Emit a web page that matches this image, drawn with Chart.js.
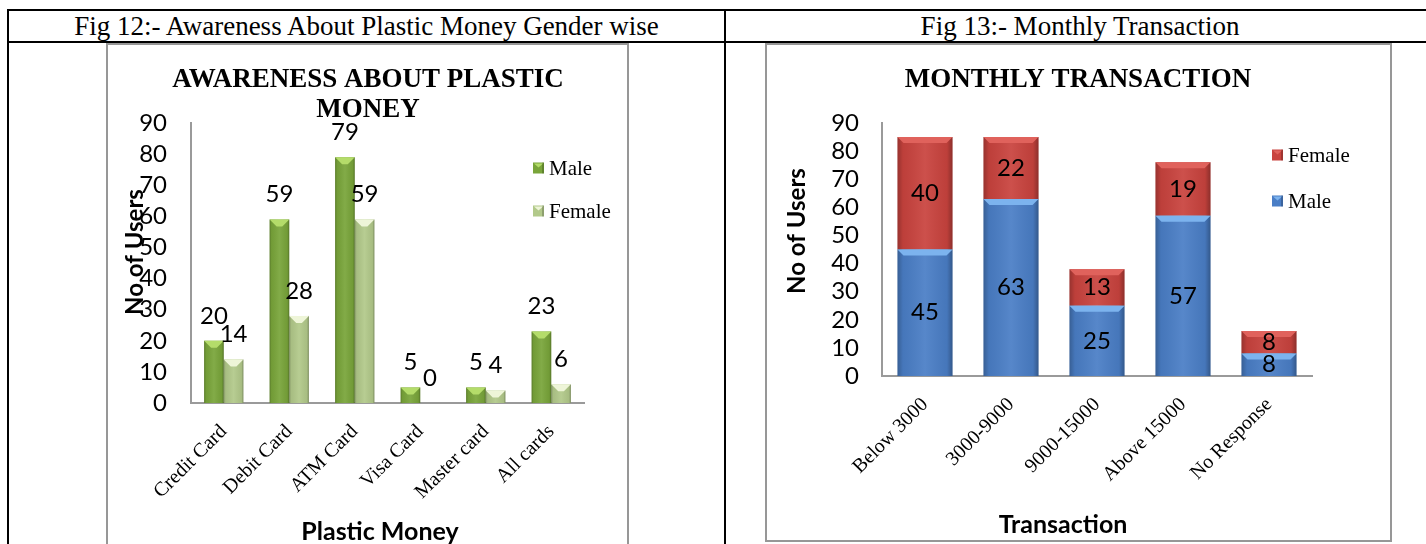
<!DOCTYPE html>
<html>
<head>
<meta charset="utf-8">
<script src="https://cdn.jsdelivr.net/npm/chart.js@4.4.1/dist/chart.umd.min.js"></script>
<style>
  html, body { margin: 0; padding: 0; background: #fff; }
  body { position: relative; width: 1426px; height: 544px; overflow: hidden; font-family: 'Liberation Serif', 'Times New Roman', serif; }
  .rule { position: absolute; background: #000; }
  .frame { position: absolute; border: 2px solid #979797; box-sizing: border-box; }
  .cap { position: absolute; top: 11px; height: 30px; line-height: 30px; text-align: center; font-size: 27px; color: #000; white-space: nowrap; }
  canvas { position: absolute; }
</style>
</head>
<body>
  <div class="frame" style="left:106px;top:43px;width:523px;height:520px"></div>
  <div class="frame" style="left:765px;top:43px;width:627px;height:499px"></div>
  <div class="rule" style="left:7px;top:9px;width:1419px;height:2px"></div>
  <div class="rule" style="left:7px;top:41px;width:1419px;height:2px"></div>
  <div class="rule" style="left:7px;top:9px;width:2px;height:535px"></div>
  <div class="rule" style="left:724px;top:9px;width:2px;height:535px"></div>
  <div class="cap" style="left:9px;width:715px">Fig 12:- Awareness About Plastic Money Gender wise</div>
  <div class="cap" style="left:726px;width:708px">Fig 13:- Monthly Transaction</div>

  <canvas id="awareness" width="519" height="500" style="left:108px;top:44px"></canvas>
  <canvas id="monthly" width="624" height="497" style="left:766px;top:44px"></canvas>

<script>
// Fig 12 – awareness of plastic money by gender
const plasticCategories = ['Credit Card', 'Debit Card', 'ATM Card', 'Visa Card', 'Master card', 'All cards'];
const plasticMale = [20, 59, 79, 5, 5, 23];
const plasticFemale = [14, 28, 59, 0, 4, 6];

// Fig 13 – monthly transaction by gender
const transactionCategories = ['Below 3000', '3000-9000', '9000-15000', 'Above 15000', 'No Response'];
const transactionMale = [45, 63, 25, 57, 8];
const transactionFemale = [40, 22, 13, 19, 8];

// shared value axis ticks
const userTicks = [0, 10, 20, 30, 40, 50, 60, 70, 80, 90];

const SANS = 'Lato, "Open Sans", sans-serif';
const SERIF = '"Liberation Serif", "Times New Roman", serif';

// Shading for the bars: darker sides and a lighter bevel along the top edge
const bevelPlugin = {
  id: 'bevel',
  afterDatasetsDraw(chart, args, opts) {
    const ctx = chart.ctx;
    ctx.save();
    chart.data.datasets.forEach((ds, di) => {
      const meta = chart.getDatasetMeta(di);
      if (meta.hidden) return;
      const light = (opts.colors || [])[di] || 'rgba(255,255,255,0.3)';
      meta.data.forEach(bar => {
        const p = bar.getProps(['x', 'y', 'base', 'width'], true);
        const left = p.x - p.width / 2, right = p.x + p.width / 2;
        const top = Math.min(p.y, p.base), bottom = Math.max(p.y, p.base);
        const h = bottom - top;
        if (h <= 0.5) return;
        const g = ctx.createLinearGradient(left, 0, right, 0);
        g.addColorStop(0, 'rgba(0,0,0,0.25)');
        g.addColorStop(0.1, 'rgba(0,0,0,0.06)');
        g.addColorStop(0.5, 'rgba(255,255,255,0.07)');
        g.addColorStop(0.9, 'rgba(0,0,0,0.06)');
        g.addColorStop(1, 'rgba(0,0,0,0.3)');
        ctx.fillStyle = g;
        ctx.fillRect(left, top, p.width, h);
        const b = Math.min(opts.size, p.width / 2 - 1, h);
        ctx.beginPath();
        ctx.moveTo(left, top);
        ctx.lineTo(right, top);
        ctx.lineTo(right - b, top + b);
        ctx.lineTo(left + b, top + b);
        ctx.closePath();
        ctx.fillStyle = light;
        ctx.fill();
      });
    });
    ctx.restore();
  }
};

// Titles, legend entries, axis titles and value labels
const textPlugin = {
  id: 'texts',
  afterDraw(chart, args, o) {
    const ctx = chart.ctx;
    ctx.save();
    ctx.fillStyle = '#000';
    ctx.textAlign = 'center';
    ctx.textBaseline = 'middle';

    // chart title
    ctx.font = 'bold 27px ' + SERIF;
    o.title.lines.forEach((t, i) => ctx.fillText(t, o.title.x, o.title.y + i * o.title.dy));

    // value labels
    ctx.font = '24px ' + SANS;
    chart.data.datasets.forEach((ds, di) => {
      const meta = chart.getDatasetMeta(di);
      meta.data.forEach((bar, i) => {
        const p = bar.getProps(['x', 'y', 'base'], true);
        const v = ds.data[i];
        const y = o.valuePlacement === 'center' ? (p.y + p.base) / 2 : p.y - o.valueOffset;
        ctx.fillText(String(v), p.x, y);
      });
    });

    // legend
    ctx.textAlign = 'left';
    ctx.font = '21px ' + SERIF;
    o.legend.forEach(item => {
      const ds = chart.data.datasets[item.dataset];
      const s = 11, sx = o.legendX, sy = item.y - s / 2;
      ctx.fillStyle = ds.backgroundColor;
      ctx.fillRect(sx, sy, s, s);
      ctx.fillStyle = 'rgba(0,0,0,0.2)';
      ctx.fillRect(sx + s - 2, sy, 2, s);
      ctx.beginPath();
      ctx.moveTo(sx + 1, sy + 1); ctx.lineTo(sx + s - 1, sy + 1); ctx.lineTo(sx + s / 2, sy + 5); ctx.closePath();
      ctx.fillStyle = item.light;
      ctx.fill();
      ctx.fillStyle = '#000';
      ctx.fillText(ds.label, sx + s + 5, item.y + 1);
    });

    // axis titles
    ctx.textAlign = 'center';
    ctx.font = 'bold 25px ' + SANS;
    ctx.fillText(o.xTitle.text, o.xTitle.x, o.xTitle.y);
    ctx.font = 'bold 24px ' + SANS;
    ctx.translate(o.yTitle.x, o.yTitle.y);
    ctx.rotate(-Math.PI / 2);
    ctx.fillText(o.yTitle.text, 0, 0);
    ctx.restore();
  }
};

function valueAxis(width, stacked, pad) {
  return {
    stacked: stacked,
    min: 0, max: 90,
    afterBuildTicks: s => { s.ticks = userTicks.map(v => ({ value: v })); },
    afterFit: s => { s.width = width; },
    grid: { display: false },
    border: { display: true, color: '#9a9a9a', width: 2 },
    ticks: { color: '#000', padding: pad, autoSkip: false, font: { family: SANS, size: 24 } }
  };
}

function categoryAxis(height, stacked) {
  return {
    stacked: stacked,
    afterFit: s => { s.height = height; },
    grid: { display: false },
    border: { display: true, color: '#9a9a9a', width: 2 },
    ticks: {
      color: '#000', padding: 9, autoSkip: false, minRotation: 45, maxRotation: 45,
      font: { family: SERIF, size: 20 }
    }
  };
}

new Chart(document.getElementById('awareness'), {
  type: 'bar',
  data: {
    labels: plasticCategories,
    datasets: [
      { label: 'Male', data: plasticMale, backgroundColor: '#79a53a', categoryPercentage: 0.6, barPercentage: 1.0 },
      { label: 'Female', data: plasticFemale, backgroundColor: '#b2c98a', categoryPercentage: 0.6, barPercentage: 1.0 }
    ]
  },
  options: {
    responsive: false,
    animation: false,
    layout: { padding: { top: 79, right: 43, bottom: 0, left: 0 } },
    plugins: {
      legend: { display: false },
      title: { display: false },
      tooltip: { enabled: false },
      bevel: { size: 7, colors: ['#b4dc6a', '#eef5d8'] },
      texts: {
        title: { lines: ['AWARENESS ABOUT PLASTIC', 'MONEY'], x: 260, y: 36, dy: 30 },
        valuePlacement: 'above', valueOffset: 25,
        legendX: 425,
        legend: [ { dataset: 0, y: 124, light: '#b4dc6a' }, { dataset: 1, y: 167, light: '#eef5d8' } ],
        yTitle: { text: 'No of Users', x: 27, y: 208 },
        xTitle: { text: 'Plastic Money', x: 272, y: 488 }
      }
    },
    scales: {
      x: categoryAxis(141, false),
      y: valueAxis(83, false, 16)
    }
  },
  plugins: [bevelPlugin, textPlugin]
});

new Chart(document.getElementById('monthly'), {
  type: 'bar',
  data: {
    labels: transactionCategories,
    datasets: [
      { label: 'Male', data: transactionMale, backgroundColor: '#4a7ec6', categoryPercentage: 0.8, barPercentage: 0.8 },
      { label: 'Female', data: transactionFemale, backgroundColor: '#c9433e', categoryPercentage: 0.8, barPercentage: 0.8 }
    ]
  },
  options: {
    responsive: false,
    animation: false,
    layout: { padding: { top: 79, right: 78, bottom: 0, left: 0 } },
    plugins: {
      legend: { display: false },
      title: { display: false },
      tooltip: { enabled: false },
      bevel: { size: 6, colors: ['#7cb3ee', '#e0625c'] },
      texts: {
        title: { lines: ['MONTHLY TRANSACTION'], x: 312, y: 36, dy: 30 },
        valuePlacement: 'center', valueOffset: 0,
        legendX: 506,
        legend: [ { dataset: 1, y: 111, light: '#e0625c' }, { dataset: 0, y: 157, light: '#7cb3ee' } ],
        yTitle: { text: 'No of Users', x: 31, y: 187 },
        xTitle: { text: 'Transaction', x: 297, y: 481 }
      }
    },
    scales: {
      x: categoryAxis(165, true),
      y: valueAxis(116, true, 15)
    }
  },
  plugins: [bevelPlugin, textPlugin]
});
</script>
</body>
</html>
